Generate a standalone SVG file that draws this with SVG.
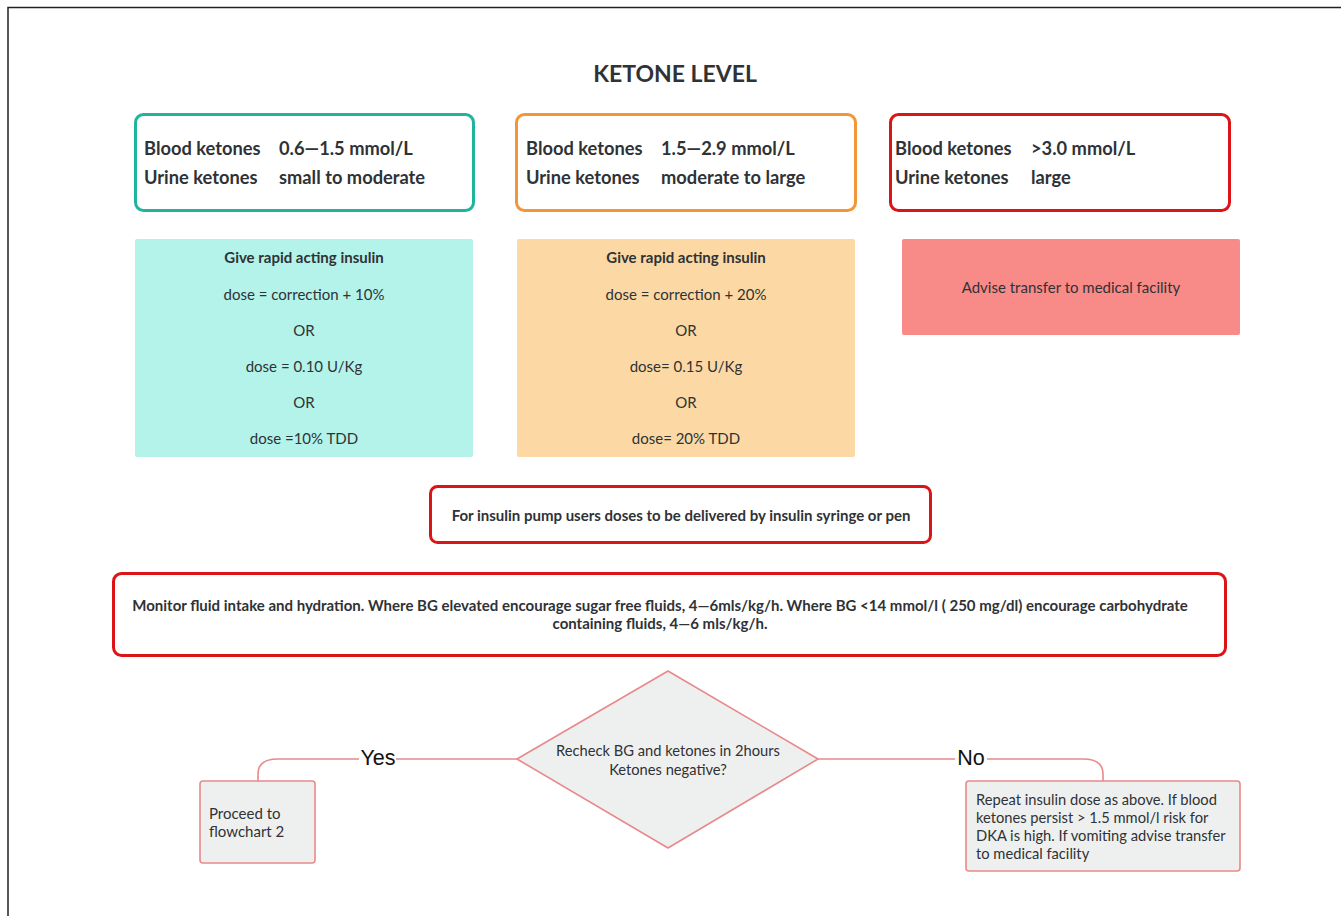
<svg xmlns="http://www.w3.org/2000/svg" width="1341" height="916" viewBox="0 0 1341 916">
<style>
.t{font-family:Lato,"Open Sans","Liberation Sans",sans-serif;fill:#2f3236}
.hd{font-size:18.3px;font-weight:700}
.bd{font-size:15px;font-weight:700}
.rg{font-size:15px}
.sm{font-size:14.7px}
.yn{font-family:"Liberation Sans",Arial,sans-serif;font-size:21.5px;fill:#111}
.conn{fill:none;stroke:#e8898b;stroke-width:1.6}
.lt{fill:#eef0ef;stroke:#e8898b;stroke-width:1.6}
</style>
<rect width="1341" height="916" fill="#fff"/>
<path d="M8,916 V7.5 H1341" fill="none" stroke="#222" stroke-width="1.5"/>
<text class="t" x="675" y="82" text-anchor="middle" style="font-size:23px;font-weight:700">KETONE LEVEL</text>

<g id="level-low">
<rect x="135.5" y="114.5" width="338" height="96" rx="8" fill="#fff" stroke="#1eb59c" stroke-width="3"/>
<text class="t hd" x="144" y="155">Blood ketones</text><text class="t hd" x="279" y="155">0.6—1.5 mmol/L</text>
<text class="t hd" x="144" y="184">Urine ketones</text><text class="t hd" x="279" y="184">small to moderate</text>
</g>
<g id="level-mid">
<rect x="516.5" y="114.5" width="339" height="96" rx="8" fill="#fff" stroke="#f39638" stroke-width="3"/>
<text class="t hd" x="526" y="155">Blood ketones</text><text class="t hd" x="661" y="155">1.5—2.9 mmol/L</text>
<text class="t hd" x="526" y="184">Urine ketones</text><text class="t hd" x="661" y="184">moderate to large</text>
</g>
<g id="level-high">
<rect x="890.5" y="114.5" width="339" height="96" rx="8" fill="#fff" stroke="#dc1416" stroke-width="3"/>
<text class="t hd" x="895" y="155">Blood ketones</text><text class="t hd" x="1031" y="155">&gt;3.0 mmol/L</text>
<text class="t hd" x="895" y="184">Urine ketones</text><text class="t hd" x="1031" y="184">large</text>
</g>

<g id="dose-low">
<rect x="135" y="239" width="338" height="218" rx="2" fill="#b4f3ea"/>
<text class="t bd" x="304" y="263" text-anchor="middle">Give rapid acting insulin</text>
<text class="t rg" x="304" y="300" text-anchor="middle">dose = correction + 10%</text>
<text class="t rg" x="304" y="336" text-anchor="middle">OR</text>
<text class="t rg" x="304" y="372" text-anchor="middle">dose = 0.10 U/Kg</text>
<text class="t rg" x="304" y="408" text-anchor="middle">OR</text>
<text class="t rg" x="304" y="444" text-anchor="middle">dose =10% TDD</text>
</g>
<g id="dose-mid">
<rect x="517" y="239" width="338" height="218" rx="2" fill="#fcd9a4"/>
<text class="t bd" x="686" y="263" text-anchor="middle">Give rapid acting insulin</text>
<text class="t rg" x="686" y="300" text-anchor="middle">dose = correction + 20%</text>
<text class="t rg" x="686" y="336" text-anchor="middle">OR</text>
<text class="t rg" x="686" y="372" text-anchor="middle">dose= 0.15 U/Kg</text>
<text class="t rg" x="686" y="408" text-anchor="middle">OR</text>
<text class="t rg" x="686" y="444" text-anchor="middle">dose= 20% TDD</text>
</g>
<g id="transfer">
<rect x="902" y="239" width="338" height="96" rx="2" fill="#f88a88"/>
<text class="t rg" x="1071" y="293" text-anchor="middle">Advise transfer to medical facility</text>
</g>

<g id="pump">
<rect x="430.5" y="486.5" width="500" height="56" rx="7" fill="#fff" stroke="#dc1416" stroke-width="3"/>
<text class="t bd" x="681" y="521" text-anchor="middle">For insulin pump users doses to be delivered by insulin syringe or pen</text>
</g>
<g id="monitor">
<rect x="113.5" y="573.5" width="1112" height="82" rx="8" fill="#fff" stroke="#dc1416" stroke-width="3"/>
<text class="t bd" x="660" y="611" text-anchor="middle">Monitor fluid intake and hydration. Where BG elevated encourage sugar free fluids, 4—6mls/kg/h. Where BG &lt;14 mmol/l ( 250 mg/dl) encourage carbohydrate</text>
<text class="t bd" x="660" y="629" text-anchor="middle">containing fluids, 4—6 mls/kg/h.</text>
</g>

<g id="connectors">
<path class="conn" d="M517,759 H396 M359,759 H278 Q258,759 258,774 V781"/>
<path class="conn" d="M818,759 H955 M987,759 H1083 Q1103,759 1103,774 V781"/>
<text class="yn" x="378" y="765" text-anchor="middle">Yes</text>
<text class="yn" x="971" y="765" text-anchor="middle">No</text>
</g>

<g id="decision">
<polygon class="lt" points="668,671 818,759 668,848 517,759" stroke-linejoin="round"/>
<text class="t sm" x="668" y="756" text-anchor="middle">Recheck BG and ketones in 2hours</text>
<text class="t sm" x="668" y="775" text-anchor="middle">Ketones negative?</text>
</g>
<g id="proceed">
<rect class="lt" x="200" y="781" width="115" height="82" rx="3"/>
<text class="t rg" x="209" y="819">Proceed to</text>
<text class="t rg" x="209" y="837">flowchart 2</text>
</g>
<g id="repeat">
<rect class="lt" x="966" y="781" width="274" height="90" rx="3"/>
<text class="t sm" x="976" y="805">Repeat insulin dose as above. If blood</text>
<text class="t sm" x="976" y="823">ketones persist &gt; 1.5  mmol/l risk for</text>
<text class="t sm" x="976" y="841">DKA is high. If vomiting advise transfer</text>
<text class="t sm" x="976" y="859">to medical facility</text>
</g>
</svg>
